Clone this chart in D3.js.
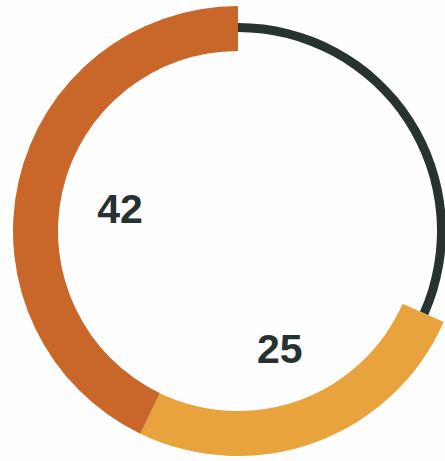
<!DOCTYPE html>
<html>
<head>
<meta charset="utf-8">
<script src="https://cdn.jsdelivr.net/npm/d3@7/dist/d3.min.js"></script>
<style>
  html, body { margin: 0; padding: 0; background: #fefefe; }
  svg { display: block; }
</style>
</head>
<body>
<svg id="chart" width="445" height="461"></svg>
<script>
// Shares of the ring, drawn counter-clockwise from 12 o'clock
const categories = ["A", "B", "Rest"];
const values = [42, 25, 31];
const labels = ["42", "25", null];
const colors = ["#c9672b", "#e9a33d", "#263330"];

const svg = d3.select("#chart");
const cx = 238, cy = 231;
const g = svg.append("g").attr("transform", `translate(${cx},${cy})`);

const pie = d3.pie()
  .sort(null)
  .value(d => d.value)
  .startAngle(0)
  .endAngle(-2 * Math.PI);

const data = categories.map((c, i) => ({ name: c, value: values[i], label: labels[i], color: colors[i] }));
const arcs = pie(data);

const thick = d3.arc().innerRadius(180).outerRadius(225);
const thin = d3.arc().innerRadius(199).outerRadius(208);
const labelArc = d3.arc().innerRadius(121).outerRadius(121);

// thin remainder track first, thick bands on top
g.selectAll("path.slice")
  .data(arcs.slice().reverse())
  .join("path")
  .attr("class", "slice")
  .attr("d", d => d.data.name === "Rest" ? thin(d) : thick(d))
  .attr("fill", d => d.data.color);

g.selectAll("text.value")
  .data(arcs.filter(d => d.data.label))
  .join("text")
  .attr("class", "value")
  .attr("transform", d => `translate(${labelArc.centroid(d)})`)
  .attr("text-anchor", "middle")
  .attr("dy", "0.45em")
  .attr("font-family", "Liberation Sans, Arial, sans-serif")
  .attr("font-weight", "bold")
  .attr("font-size", 41)
  .attr("fill", "#263130")
  .text(d => d.data.label);
</script>
</body>
</html>
